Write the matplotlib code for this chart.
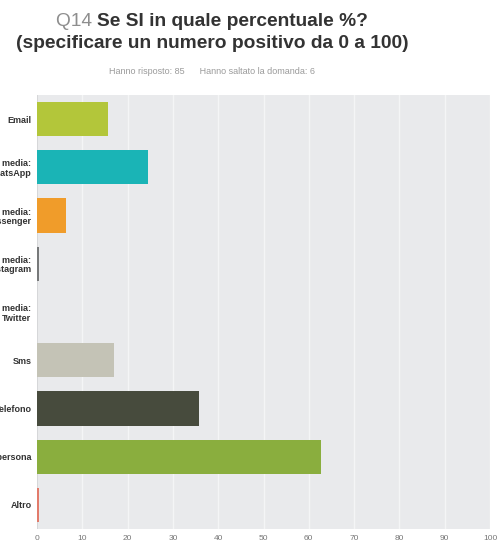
import matplotlib
matplotlib.use("Agg")
import matplotlib.pyplot as plt
import numpy as np

plt.rcParams['font.family'] = ['Liberation Sans', 'DejaVu Sans']

# data
categories = ["Email", "Social media:\nWhatsApp", "Social media:\nMessenger",
              "Social media:\nInstagram", "Social media:\nTwitter", "Sms",
              "Telefono", "Di persona", "Altro"]
values = [15.7, 24.4, 6.4, 0.5, 0.0, 17.1, 35.7, 62.7, 0.4]
colors = ["#b3c63a", "#1ab4b6", "#f09c2a", "#77797a", "#5a8fd0", "#c4c3b6",
          "#474b3d", "#8aae3e", "#e27b6b"]
xticks = [0, 10, 20, 30, 40, 50, 60, 70, 80, 90, 100]

W, H = 501, 555
fig = plt.figure(figsize=(W / 100, H / 100), dpi=100)
fig.patch.set_facecolor("white")

# axes box in pixels: left 37, right 490, top 95, bottom 529
ax = fig.add_axes([37 / W, 1 - 529 / H, (490 - 37) / W, (529 - 95) / H])
ax.set_facecolor("#e9eaec")

y = np.arange(len(categories))
ax.barh(y, values, height=0.71, color=colors, zorder=3)
ax.set_ylim(len(categories) - 0.5, -0.5)
ax.set_xlim(0, 100)
ax.set_xticks(xticks)
ax.set_xticklabels([str(t) for t in xticks], fontsize=6, color="#777777")
ax.tick_params(axis="x", length=0, pad=4)
ax.set_yticks(y)
ax.set_yticklabels(categories, fontsize=6.5, fontweight="bold", color="#333333",
                   linespacing=1.1)
ax.tick_params(axis="y", length=0, pad=4)
for lab in ax.get_yticklabels():
    lab.set_horizontalalignment("right")
ax.grid(axis="x", color="#f4f5f6", linewidth=1.0, zorder=1)
for s in ax.spines.values():
    s.set_visible(False)
ax.axvline(0, color="#d6d7d9", linewidth=0.8, zorder=2)

# title: "Q14" grey, rest bold dark, centred near x=212
cx = 212 / W
fig.canvas.draw()
r = fig.canvas.get_renderer()
t1 = fig.text(0, 0, "Q14 ", fontsize=13.8, color="#8e8e8e")
t2 = fig.text(0, 0, "Se SI in quale percentuale %?", fontsize=13.8,
              fontweight="bold", color="#333333")
w1 = t1.get_window_extent(r).width / W
w2 = t2.get_window_extent(r).width / W
x0 = cx - (w1 + w2) / 2
y1 = 1 - 21 / H
t1.set_position((x0, y1))
t1.set_va("center")
t2.set_position((x0 + w1, y1))
t2.set_va("center")
fig.text(cx, 1 - 43 / H, "(specificare un numero positivo da 0 a 100)",
         fontsize=13.8, fontweight="bold", color="#333333",
         ha="center", va="center")
fig.text(cx, 1 - 72 / H, "Hanno risposto: 85      Hanno saltato la domanda: 6",
         fontsize=6.5, color="#9a9a9a", ha="center", va="center")

fig.savefig("out.png", dpi=100, facecolor="white")
